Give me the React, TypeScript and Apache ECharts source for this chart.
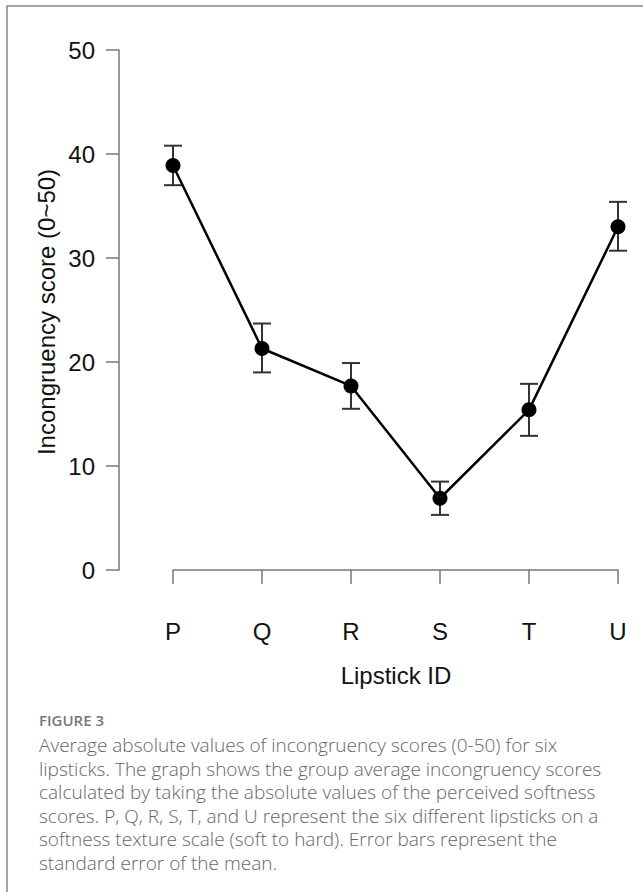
import React, { useEffect, useRef } from "react";
import * as echarts from "echarts";

const categories = ["P", "Q", "R", "S", "T", "U"];
const means = [38.9, 21.3, 17.7, 6.9, 15.4, 33.0];
const lower = [37.0, 19.0, 15.5, 5.3, 12.9, 30.7];
const upper = [40.8, 23.7, 19.9, 8.5, 17.9, 35.4];
const yTicks = { min: 0, max: 50, interval: 10 };
const yTitle = "Incongruency score (0~50)";
const xTitle = "Lipstick ID";
const figLabel = "FIGURE 3";
const captionLines = [
  "Average absolute values of incongruency scores (0-50) for six",
  "lipsticks. The graph shows the group average incongruency scores",
  "calculated by taking the absolute values of the perceived softness",
  "scores. P, Q, R, S, T, and U represent the six different lipsticks on a",
  "softness texture scale (soft to hard). Error bars represent the",
  "standard error of the mean.",
];

export default function App() {
  const ref = useRef<HTMLDivElement>(null);
  useEffect(() => {
    document.body.style.margin = "0";
    const chart = echarts.init(ref.current!, null, { renderer: "svg" });
    const errData = categories.map((c, i) => [i, lower[i], upper[i]]);
    const axisFont = "Liberation Sans, Arial, sans-serif";
    chart.setOption({
      animation: false,
      backgroundColor: "#fff",
      grid: { left: 173, right: 25, top: 50, bottom: 322 },
      xAxis: {
        type: "category",
        data: categories,
        boundaryGap: false,
        offset: 26,
        axisLine: { lineStyle: { color: "#777", width: 1.5 } },
        axisTick: { show: true, length: 14, lineStyle: { color: "#777", width: 1.5 } },
        axisLabel: { color: "#111", fontSize: 24, fontFamily: axisFont, margin: 23 },
        splitLine: { show: false },
      },
      yAxis: {
        type: "value",
        min: yTicks.min,
        max: yTicks.max,
        interval: yTicks.interval,
        offset: 54,
        axisLine: { show: true, lineStyle: { color: "#777", width: 1.5 } },
        axisTick: { show: true, length: 13, lineStyle: { color: "#777", width: 1.5 } },
        axisLabel: { color: "#111", fontSize: 24, fontFamily: axisFont, margin: 24 },
        splitLine: { show: false },
      },
      series: [
        {
          type: "custom",
          data: errData,
          z: 1,
          renderItem: (params: any, api: any) => {
            const x = api.value(0);
            const lo = api.coord([x, api.value(1)]);
            const hi = api.coord([x, api.value(2)]);
            const hw = 9;
            const style = { stroke: "#333", lineWidth: 2 };
            return {
              type: "group",
              children: [
                { type: "line", shape: { x1: lo[0], y1: lo[1], x2: hi[0], y2: hi[1] }, style },
                { type: "line", shape: { x1: lo[0] - hw, y1: lo[1], x2: lo[0] + hw, y2: lo[1] }, style },
                { type: "line", shape: { x1: hi[0] - hw, y1: hi[1], x2: hi[0] + hw, y2: hi[1] }, style },
              ],
            };
          },
        },
        {
          type: "line",
          data: means,
          z: 3,
          symbol: "circle",
          symbolSize: 15,
          itemStyle: { color: "#000" },
          lineStyle: { color: "#000", width: 2.5 },
        },
      ],
      graphic: [
        {
          type: "rect",
          shape: { x: 7, y: 6, width: 700, height: 950 },
          style: { fill: "none", stroke: "#888", lineWidth: 1.5 },
          silent: true,
        },
        {
          type: "text",
          x: 46,
          y: 312,
          rotation: Math.PI / 2,
          style: {
            text: yTitle,
            fontSize: 24,
            fontFamily: axisFont,
            fill: "#111",
            align: "center",
            verticalAlign: "middle",
          },
        },
        {
          type: "text",
          x: 396,
          y: 675,
          style: {
            text: xTitle,
            fontSize: 24,
            fontFamily: axisFont,
            fill: "#111",
            align: "center",
            verticalAlign: "middle",
          },
        },
        {
          type: "text",
          x: 39,
          y: 720,
          style: {
            text: figLabel,
            fontSize: 15,
            fontFamily: "Open Sans, sans-serif",
            fontWeight: 600,
            fill: "#777",
            align: "left",
            verticalAlign: "middle",
          },
        },
        ...captionLines.map((t, i) => ({
          type: "text",
          x: 39,
          y: 745 + i * 23.6,
          style: {
            text: t,
            fontSize: 19,
            fontFamily: "Open Sans, sans-serif",
            fontWeight: 300,
            fill: "#666",
            align: "left",
            verticalAlign: "middle",
          },
        })),
      ],
    });
    return () => chart.dispose();
  }, []);
  return <div ref={ref} style={{ width: 643, height: 892 }} />;
}
